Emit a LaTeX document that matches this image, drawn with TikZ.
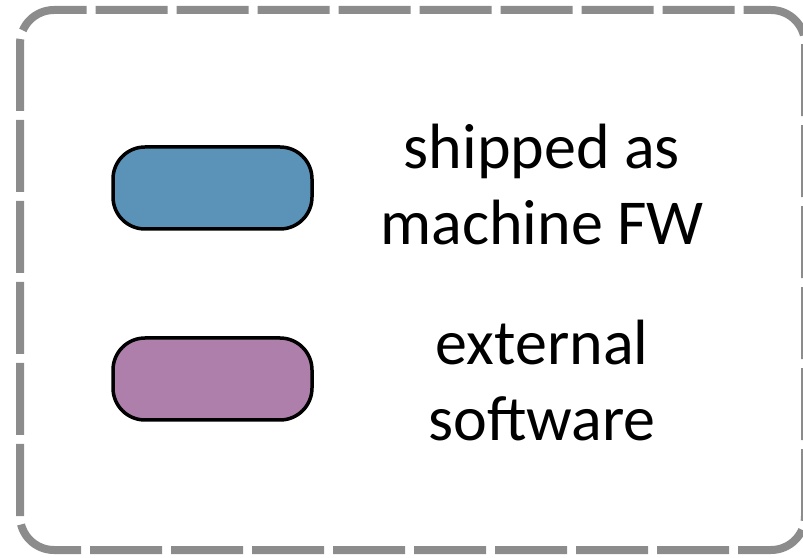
\documentclass[tikz,border=0pt]{standalone}
\usepackage{fontspec}
\setmainfont{Carlito}
\usetikzlibrary{positioning}
\definecolor{FrameGray}{HTML}{8C8C8C}
\definecolor{ShippedColor}{HTML}{5B92B8}
\definecolor{ExternalColor}{HTML}{AD7FAA}
\newcommand{\PillWidth}{199pt}
\newcommand{\PillHeight}{82pt}
\newcommand{\XText}{542}

\begin{document}
\begin{tikzpicture}[
  x=1pt, y=1pt,
  frame/.style={draw=FrameGray,line width=8pt,dash pattern=on 72pt off 9pt},
  pill/.style={draw=black,line width=3.5pt,rounded corners=32pt,minimum width=\PillWidth,minimum height=\PillHeight,inner sep=0pt},
  legendtext/.style={font=\fontsize{64}{76}\selectfont,align=center,inner sep=0pt}
]
\useasboundingbox (0,0) rectangle (803,557);

% Frame round the legend
\draw[frame,rounded corners=34pt] (20,7) rectangle (805,547);

% Legend entries
\node[pill,fill=ShippedColor] (shipped) at (212.5,369) {};
\node[pill,fill=ExternalColor] (external) at (212.5,178) {};

\node[legendtext] (shippedtext) at (\XText,372) {shipped as\\machine FW};
\node[legendtext] (externaltext) at (\XText,176) {external\\software};

\end{tikzpicture}
\end{document}
